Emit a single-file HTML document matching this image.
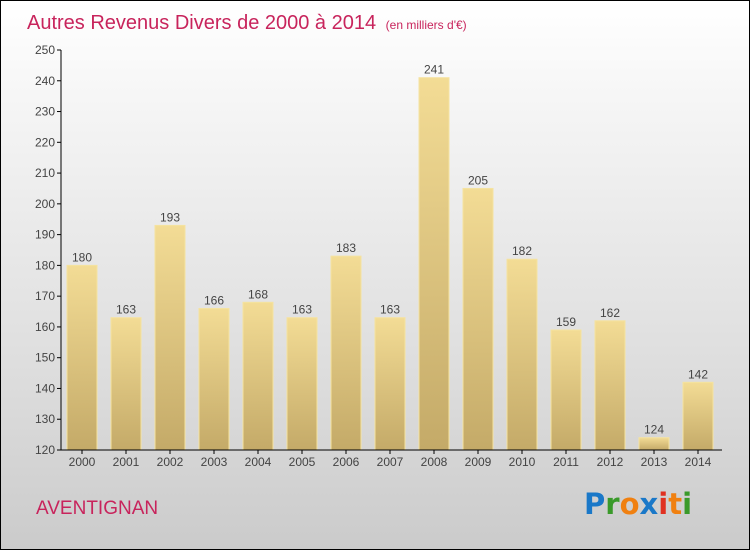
<!DOCTYPE html>
<html><head><meta charset="utf-8"><style>
html,body{margin:0;padding:0}
body{width:750px;height:550px;overflow:hidden;font-family:"Liberation Sans",sans-serif}
#wrap{position:relative;width:748px;height:548px;border:1px solid #000;background:linear-gradient(#ffffff 0%,#f2f2f2 25%,#dcdcdc 70%,#cbcbcb 100%)}
</style></head><body>
<div id="wrap">
<svg id="chart" width="748" height="548" viewBox="1 1 748 548" style="position:absolute;left:0;top:0">
<defs>
<linearGradient id="bg" x1="0" y1="0" x2="0" y2="1"><stop offset="0" stop-color="#f3dc95"/><stop offset="1" stop-color="#c4aa68"/></linearGradient>
</defs>
<text x="27" y="29" font-size="20" fill="#c8245c" font-weight="normal">Autres Revenus Divers de 2000 à 2014 <tspan font-size="12" dx="4">(en milliers d'€)</tspan></text>
<g id="yaxis"></g>
<g id="bars"></g>
<g id="xaxis"></g>
<text x="36" y="514" font-size="19" fill="#c8245c">AVENTIGNAN</text>
<g font-size="29" font-family="'DejaVu Sans',sans-serif" font-weight="bold">
<text x="584" y="514"><tspan fill="#1a78c8">P</tspan><tspan fill="#3a9a2a">r</tspan><tspan fill="#f08010">o</tspan><tspan fill="#1a78c8">x</tspan><tspan fill="#e03020">i</tspan><tspan fill="#f08010">t</tspan><tspan fill="#3a9a2a">i</tspan></text>
</g>
</svg>
</div>
<script>
const categories=["2000","2001","2002","2003","2004","2005","2006","2007","2008","2009","2010","2011","2012","2013","2014"];
const values=[180,163,193,166,168,163,183,163,241,205,182,159,162,124,142];
const yTicks=[120,130,140,150,160,170,180,190,200,210,220,230,240,250];
const NS="http://www.w3.org/2000/svg";
const yMin=120,yMax=250,plotTop=50,plotBot=450,x0=82,step=44,bw=30;
function yPos(v){return plotBot-(v-yMin)/(yMax-yMin)*(plotBot-plotTop);}
function xPos(i){return x0+i*step;}
function mk(t,a,p){const e=document.createElementNS(NS,t);for(const k in a)e.setAttribute(k,a[k]);p.appendChild(e);return e;}
const ya=document.getElementById('yaxis'),xa=document.getElementById('xaxis'),bg=document.getElementById('bars');
mk('line',{x1:61,y1:plotTop,x2:61,y2:plotBot,stroke:'#000','stroke-width':1},ya);
yTicks.forEach(v=>{
 const l=mk('line',{x1:57,y1:yPos(v),x2:61,y2:yPos(v),stroke:'#000'},ya);
 
 
 const t=mk('text',{x:55,y:yPos(v)+4,'font-size':12,fill:'#444','text-anchor':'end'},ya);
 t.textContent=v;
 
 
});
mk('line',{x1:61,y1:plotBot,x2:722,y2:plotBot,stroke:'#000'},xa);
categories.forEach((c,i)=>{
 const cx=xPos(i),v=values[i];
 const r=mk('rect',{x:cx-bw/2,y:yPos(v),width:bw,height:plotBot-yPos(v),fill:'url(#bg)',stroke:'#f5e3a0','stroke-width':1},bg);
 
 
 const vl=mk('text',{x:cx,y:yPos(v)-4,'font-size':12,fill:'#444','text-anchor':'middle'},bg);
 vl.textContent=v;
 
 
 mk('line',{x1:cx,y1:plotBot,x2:cx,y2:plotBot+4,stroke:'#000'},xa);
 const t=mk('text',{x:cx,y:plotBot+16,'font-size':12,fill:'#444','text-anchor':'middle'},xa);
 t.textContent=c;
 
 
});
</script>
</body></html>
